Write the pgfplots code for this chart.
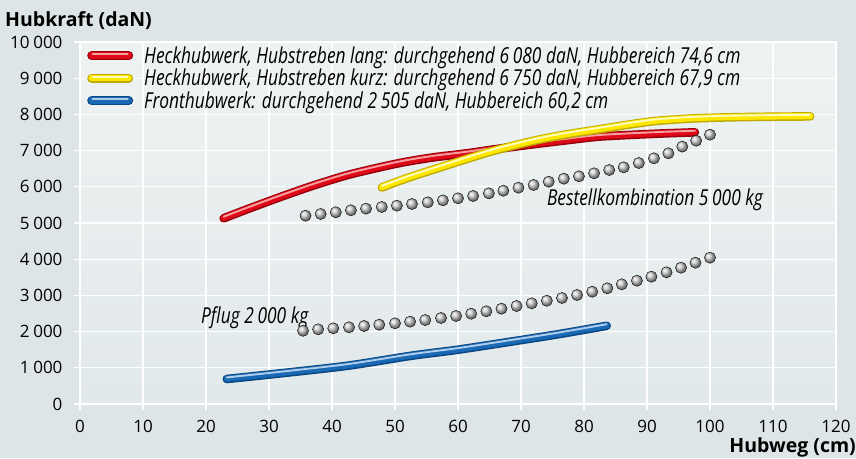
\documentclass[border=0pt]{standalone}
\usepackage{fontspec}
\setmainfont{Open Sans}
\newfontfamily\condfont{Open Sans}[FakeStretch=0.79]
\usepackage{pgfplots}
\pgfplotsset{compat=1.18}
\usepackage{pgfplotstable}
\definecolor{bg}{RGB}{222,229,231}
\definecolor{plottop}{RGB}{238,242,243}
\definecolor{plotbot}{RGB}{226,233,234}
\definecolor{reddark}{RGB}{150,0,10}
\definecolor{redmain}{RGB}{222,10,25}
\definecolor{redhi}{RGB}{245,160,160}
\definecolor{yeldark}{RGB}{190,170,0}
\definecolor{yelmain}{RGB}{255,232,0}
\definecolor{yelhi}{RGB}{255,250,190}
\definecolor{bludark}{RGB}{10,70,130}
\definecolor{blumain}{RGB}{25,105,180}
\definecolor{bluhi}{RGB}{175,205,235}
\definecolor{ballgray}{RGB}{205,205,205}

\pgfplotstableread{
x y
22.8 5130
26.7 5390
32 5730
37.3 6050
42.6 6330
47.9 6550
51.6 6685
56 6810
61.4 6925
66 7040
72 7175
77 7280
82 7380
87 7430
92 7470
97.6 7505
}\redtab

\pgfplotstableread{
x y
47.9 5980
51.6 6220
56 6470
61.4 6770
66 7010
72 7270
77 7440
82.5 7590
87 7715
91.5 7820
97 7885
102 7915
108 7932
115.9 7945
}\yeltab

\pgfplotstableread{
x y
23.3 690
32 850
42.6 1060
52.5 1330
60 1500
68.3 1720
76 1930
83.6 2160
}\blutab

\pgfplotstableread{
x y
35.4 2023
37.8 2063
40.2 2091
42.7 2119
45.1 2155
47.5 2191
50.0 2229
52.4 2274
54.8 2320
57.3 2376
59.7 2431
62.1 2494
64.5 2561
66.9 2632
69.3 2707
71.7 2781
74.1 2853
76.5 2928
78.9 3011
81.3 3102
83.7 3196
86.0 3306
88.4 3406
90.7 3517
93.1 3638
95.4 3765
97.7 3903
100.0 4041
}\pflugtab

\pgfplotstableread{
x y
35.8 5202
38.2 5249
40.6 5296
43.0 5351
45.4 5396
47.9 5442
50.3 5478
52.7 5525
55.2 5571
57.6 5626
60.0 5682
62.4 5746
64.9 5820
67.2 5892
69.6 5975
72.0 6050
74.4 6141
76.8 6224
79.2 6290
81.6 6373
84.0 6464
86.3 6538
88.7 6657
91.1 6787
93.4 6925
95.6 7110
97.8 7273
100.0 7439
}\besttab

\begin{document}
\begin{tikzpicture}
\fill[bg] (-80pt,-54pt) rectangle (776pt,404pt);
\begin{axis}[
  scale only axis, width=756pt, height=362pt,
  at={(0pt,0pt)}, anchor=south west,
  xmin=0, xmax=120, ymin=0, ymax=10000,
  xtick={0,10,...,120}, ytick={0,1000,...,10000},
  scaled y ticks=false, scaled x ticks=false,
  xtick pos=left, ytick pos=left,
  grid=major, major grid style={white, line width=1.3pt},
  axis line style={white, line width=1.3pt},
  tick style={white, line width=1.3pt},
  tick align=outside, major tick length=6pt,
  axis background/.style={top color=plottop, bottom color=plotbot},
  tick label style={font=\fontsize{17}{20}\selectfont, black},
  /pgf/number format/assume math mode=true,
  /pgf/number format/1000 sep={\hspace{0.22em}},
  yticklabel style={xshift=-8pt},
  xticklabel style={yshift=-7pt},
  legend style={at={(0,1)}, anchor=north west, xshift=7pt, yshift=-4.5pt,
    draw=none, fill=none, inner sep=0pt, row sep=4.2pt, column sep=11pt,
    font=\condfont\itshape\fontsize{22}{24}\selectfont,
    nodes={inner sep=0pt}},
  legend cell align=left,
  clip=false,
]
\addlegendimage{legend image code/.code={
  \draw[line cap=round, line width=9pt, draw=reddark] (0pt,0pt) -- (37pt,0pt);
  \draw[line cap=round, line width=6.5pt, draw=redmain] (0pt,0.3pt) -- (37pt,0.3pt);
  \draw[line cap=round, line width=2pt, draw=redhi] (1pt,1.6pt) -- (36pt,1.6pt);}}
\addlegendentry{Heckhubwerk, Hubstreben lang: durchgehend 6\,080 daN, Hubbereich 74,6 cm}
\addlegendimage{legend image code/.code={
  \draw[line cap=round, line width=9pt, draw=yeldark] (0pt,0pt) -- (37pt,0pt);
  \draw[line cap=round, line width=6.5pt, draw=yelmain] (0pt,0.3pt) -- (37pt,0.3pt);
  \draw[line cap=round, line width=2pt, draw=yelhi] (1pt,1.6pt) -- (36pt,1.6pt);}}
\addlegendentry{Heckhubwerk, Hubstreben kurz: durchgehend 6\,750 daN, Hubbereich 67,9 cm}
\addlegendimage{legend image code/.code={
  \draw[line cap=round, line width=9pt, draw=bludark] (0pt,0pt) -- (37pt,0pt);
  \draw[line cap=round, line width=6.5pt, draw=blumain] (0pt,0.3pt) -- (37pt,0.3pt);
  \draw[line cap=round, line width=2pt, draw=bluhi] (1pt,1.6pt) -- (36pt,1.6pt);}}
\addlegendentry{Fronthubwerk: durchgehend 2\,505 daN, Hubbereich 60,2 cm}

% dotted series
\addplot[forget plot, only marks, mark=ball, mark size=5.6pt, mark options={ball color=ballgray}] table {\pflugtab};
\addplot[forget plot, only marks, mark=ball, mark size=5.6pt, mark options={ball color=ballgray}] table {\besttab};

% red tube
\addplot[forget plot, smooth, line cap=round, line width=8.6pt, draw=reddark] table {\redtab};
\addplot[forget plot, smooth, line cap=round, line width=6.2pt, draw=redmain, yshift=0.3pt] table {\redtab};
\addplot[forget plot, smooth, line cap=round, line width=1.9pt, draw=redhi, yshift=1.6pt] table {\redtab};
% yellow tube
\addplot[forget plot, smooth, line cap=round, line width=8.6pt, draw=yeldark] table {\yeltab};
\addplot[forget plot, smooth, line cap=round, line width=6.2pt, draw=yelmain, yshift=0.3pt] table {\yeltab};
\addplot[forget plot, smooth, line cap=round, line width=1.9pt, draw=yelhi, yshift=1.6pt] table {\yeltab};
% blue tube
\addplot[forget plot, smooth, line cap=round, line width=8.6pt, draw=bludark] table {\blutab};
\addplot[forget plot, smooth, line cap=round, line width=6.2pt, draw=blumain, yshift=0.3pt] table {\blutab};
\addplot[forget plot, smooth, line cap=round, line width=1.9pt, draw=bluhi, yshift=1.6pt] table {\blutab};

\node[anchor=base west, inner sep=0pt, font=\condfont\itshape\fontsize{22}{24}\selectfont] at (axis cs:74.1,5497) {Bestellkombination 5\,000 kg};
\node[anchor=base west, inner sep=0pt, font=\condfont\itshape\fontsize{22}{24}\selectfont] at (axis cs:19.2,2229) {Pflug 2\,000 kg};
\end{axis}
\node[anchor=base west, inner sep=0pt, font=\bfseries\fontsize{19.5}{22}\selectfont] at (-75pt,377pt) {Hubkraft (daN)};
\node[anchor=base east, inner sep=0pt, font=\bfseries\fontsize{19.5}{22}\selectfont] at (776pt,-48pt) {Hubweg (cm)};
\end{tikzpicture}
\end{document}
